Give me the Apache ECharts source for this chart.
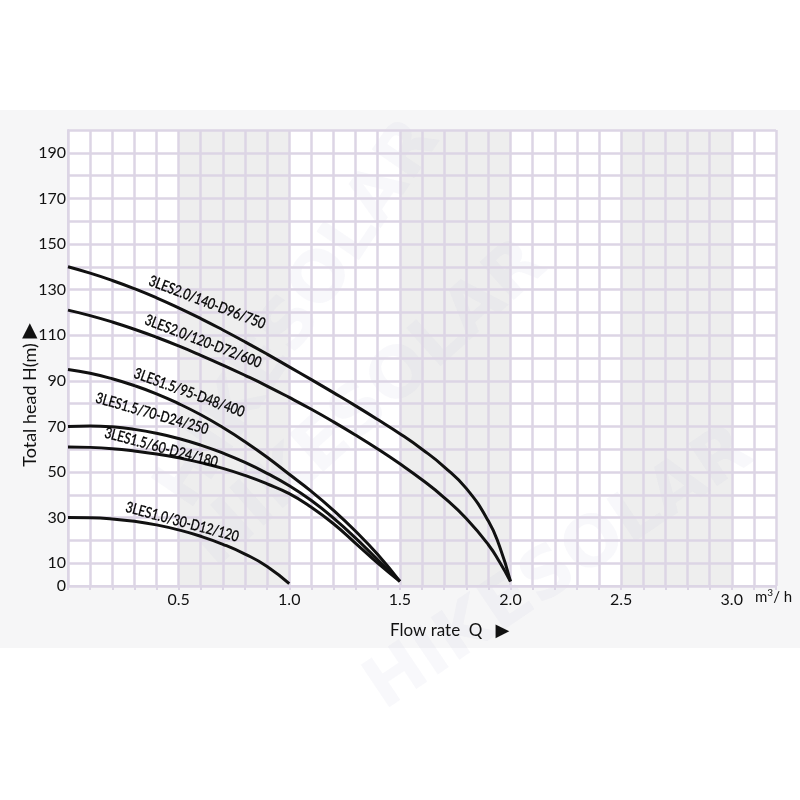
<!DOCTYPE html>
<html><head><meta charset="utf-8">
<script src="https://cdn.jsdelivr.net/npm/echarts@6/dist/echarts.min.js"></script>
<style>
html,body{margin:0;padding:0;}
body{width:800px;height:800px;background:linear-gradient(to bottom,#fff 0,#fff 110px,#f6f6f7 110px,#f6f6f7 648px,#fff 648px,#fff 800px);}
#c{width:800px;height:800px;}
</style></head><body><div id="c"></div>
<script>
// ---- data ----
const curveNames = ['3LES2.0/140-D96/750','3LES2.0/120-D72/600','3LES1.5/95-D48/400','3LES1.5/70-D24/250','3LES1.5/60-D24/180','3LES1.0/30-D12/120'];
const curve750 = [[0,140],[0.1,137.2],[0.2,134],[0.3,130.4],[0.4,126.4],[0.5,122],[0.6,117.3],[0.7,112.3],[0.8,107.1],[0.9,101.7],[1.0,96.1],[1.1,90.5],[1.2,84.8],[1.3,79],[1.4,73],[1.5,66.8],[1.6,60],[1.7,52.3],[1.8,42.8],[1.9,28.5],[1.95,17.5],[2.0,2]];
const curve600 = [[0,121],[0.1,118.6],[0.2,115.8],[0.3,112.6],[0.4,109.1],[0.5,105.3],[0.6,101.2],[0.7,96.9],[0.8,92.4],[0.9,87.7],[1.0,82.7],[1.1,77.5],[1.2,72],[1.3,66.2],[1.4,60.1],[1.5,53.6],[1.6,46.6],[1.7,38.8],[1.8,29.6],[1.9,18.1],[1.95,10.6],[2.0,2]];
const curve400 = [[0,95],[0.1,93.3],[0.2,90.9],[0.3,87.9],[0.4,84.3],[0.5,80],[0.6,75.1],[0.7,69.5],[0.8,63.3],[0.9,56.5],[1.0,49],[1.1,41.5],[1.2,33.2],[1.3,24],[1.4,13.8],[1.5,2]];
const curve250 = [[0,70],[0.1,70.2],[0.2,69.8],[0.3,68.7],[0.4,67],[0.5,64.7],[0.6,61.8],[0.7,58.3],[0.8,54.2],[0.9,49.4],[1.0,44],[1.1,37.5],[1.2,29.8],[1.3,21],[1.4,11.5],[1.5,2]];
const curve180 = [[0,61],[0.1,60.8],[0.2,60.2],[0.3,59.2],[0.4,57.9],[0.5,56.2],[0.6,54.1],[0.7,51.6],[0.8,48.5],[0.9,44.8],[1.0,40.5],[1.1,34.5],[1.2,27.3],[1.3,18.7],[1.4,10],[1.5,2]];
const curve120 = [[0,30],[0.1,29.9],[0.2,29.4],[0.3,28.4],[0.4,26.8],[0.5,24.6],[0.6,21.8],[0.7,18.3],[0.8,14],[0.9,8.6],[1.0,1]];
const curves = [curve750, curve600, curve400, curve250, curve180, curve120];
const shadedBands = [[0.5,1.0],[1.5,2.0],[2.5,3.0]];
const xTickLabels = ['0.5','1.0','1.5','2.0','2.5','3.0'];
const yTickLabels = ['0','10','30','50','70','90','110','130','150','170','190'];
// label anchors (data coords) and angles
const labelAnchors = [[0.629,124.4],[0.611,107.3],[0.548,84.8],[0.380,75.6],[0.421,60.7],[0.516,28.1]];
const labelAngles = [21,21,20,16,15,15];

const grid = '#dcd5e5';
const chart = echarts.init(document.getElementById('c'), null, {renderer:'canvas'});
const series = [{
  type:'line', data:[], z:1, silent:true,
  markArea:{silent:true, itemStyle:{color:'#eeeeee'}, data: shadedBands.map(b=>[{xAxis:b[0]},{xAxis:b[1]}])}
}];
curves.forEach((c,i)=>series.push({
  type:'line', name:curveNames[i], data:c, smooth:0.5, symbol:'none', z:5,
  lineStyle:{color:'#111', width:3}
}));
chart.setOption({
  backgroundColor:'transparent',
  animation:false,
  grid:{left:68, top:130, width:708, height:456, show:true, backgroundColor:'#fff', borderWidth:0},
  xAxis:{type:'value', min:0, max:3.2, interval:0.1, z:3,
    axisLine:{show:true, lineStyle:{color:grid, width:2}},
    axisTick:{show:true, length:4, lineStyle:{color:grid, width:2}},
    splitLine:{show:true, lineStyle:{color:grid, width:2.5}},
    axisLabel:{fontFamily:'Lato', fontSize:16, color:'#111', margin:6,
      formatter:v=>{const r=Math.round(v*10); const s=(r/10).toFixed(1); return (r%5===0 && xTickLabels.includes(s))?s:'';}}
  },
  yAxis:{type:'value', min:0, max:200, interval:10, z:3,
    axisLine:{show:true, lineStyle:{color:grid, width:2}},
    axisTick:{show:false},
    splitLine:{show:true, lineStyle:{color:grid, width:2.5}},
    axisLabel:{fontFamily:'Lato', fontSize:16, color:'#111', margin:2,
      formatter:v=>{const s=String(Math.round(v)); return yTickLabels.includes(s)?s:'';}}
  },
  series
});

const gfx = [];
// watermark
[[300,315,56],[370,405,42],[560,570,34]].forEach(w=>gfx.push({
  type:'text', x:w[0], y:w[1], rotation:w[2]*Math.PI/180, z:2, silent:true,
  style:{text:'HIKESOLAR', font:'bold 70px "DejaVu Sans"', fill:'rgba(200,195,225,0.12)', align:'center', verticalAlign:'middle'}
}));
labelAnchors.forEach((a,i)=>{
  const p = chart.convertToPixel({gridIndex:0}, a);
  gfx.push({type:'text', x:p[0], y:p[1], rotation:-labelAngles[i]*Math.PI/180, scaleX:0.8, z:10,
    style:{text:curveNames[i], font:'15px Lato', fill:'#000', stroke:'#000', lineWidth:0.35, align:'center', verticalAlign:'middle'}});
});
gfx.push({type:'text', x:30, y:395, rotation:Math.PI/2, z:10,
  style:{text:'Total head H(m) {a|▶}', font:'18px Lato', fill:'#111', align:'center', verticalAlign:'middle',
    rich:{a:{font:'20px "DejaVu Sans"', fill:'#111'}}}});
gfx.push({type:'text', x:390, y:631, z:10,
  style:{text:'Flow rate  Q   {a|▶}', font:'17px Lato', fill:'#111', align:'left', verticalAlign:'middle',
    rich:{a:{font:'18px "DejaVu Sans"', fill:'#111'}}}});
gfx.push({type:'text', x:755, y:597, z:10,
  style:{text:'m{s|3}/ h', font:'15px Lato', fill:'#111', align:'left', verticalAlign:'middle',
    rich:{s:{font:'10px Lato', fill:'#111', verticalAlign:'top', padding:[0,0,8,0]}}}});
chart.setOption({graphic:gfx});
</script></body></html>
